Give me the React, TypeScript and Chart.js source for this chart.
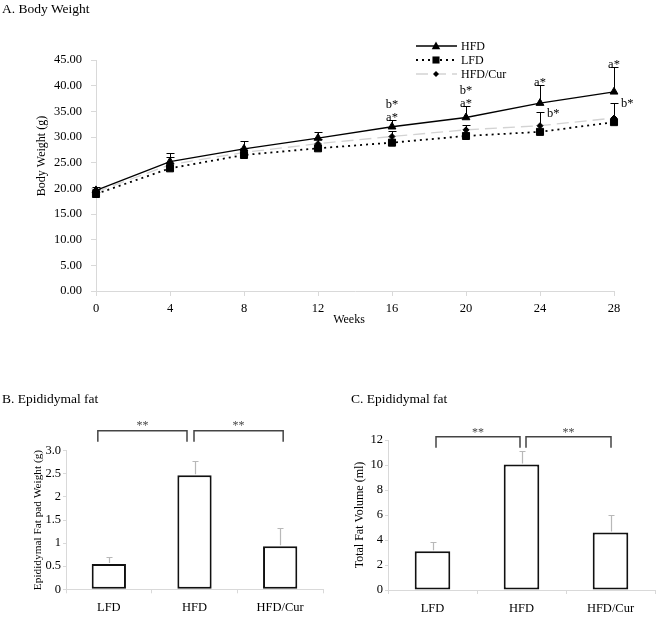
import React, { useEffect, useRef } from 'react';
import { Chart, registerables } from 'chart.js';

Chart.register(...registerables);

const FONT = "'Liberation Serif', 'Times New Roman', Times, serif";
Chart.defaults.font.family = FONT;
Chart.defaults.color = '#000';

// ---------- Panel A: body weight (g) by week ----------
const weeks = [0, 4, 8, 12, 16, 20, 24, 28];
const hfdWeight = [19.6, 25.2, 27.7, 29.8, 32.0, 33.8, 36.6, 38.8];
const hfdWeightErr = [0.6, 1.6, 1.5, 1.1, 1.3, 2.3, 3.6, 4.9];
const lfdWeight = [18.9, 23.9, 26.5, 27.8, 28.9, 30.2, 31.0, 32.9];
const curWeight = [19.3, 24.6, 27.0, 28.7, 30.1, 31.4, 32.2, 33.7];
const curWeightErr = [0.5, 1.5, 0.8, 1.0, 1.0, 1.0, 2.6, 2.9];
const seriesNames = ['HFD', 'LFD', 'HFD/Cur'];
const aMarkWeeks = [16, 20, 24, 28]; // "a*" above HFD error bar
const bAboveWeeks = [16, 20]; // "b*" stacked above "a*"
const bSideWeeks = [24, 28]; // "b*" beside HFD/Cur error bar

// ---------- Panels B & C ----------
const groups = ['LFD', 'HFD', 'HFD/Cur'];
const fatPadWeight = [0.55, 2.47, 0.93];
const fatPadWeightErr = [0.14, 0.31, 0.4];
const fatVolume = [3.1, 10.05, 4.6];
const fatVolumeErr = [0.75, 1.05, 1.4];
const sigPairs = [
  [0, 1],
  [1, 2],
];
const sigLabel = '**';

const pts = (vals: number[]) => weeks.map((w, i) => ({ x: w, y: vals[i] }));

function drawMarker(ctx: CanvasRenderingContext2D, style: string, x: number, y: number, r: number) {
  ctx.beginPath();
  if (style === 'triangle') {
    ctx.moveTo(x, y - r);
    ctx.lineTo(x + r * 0.95, y + r * 0.7);
    ctx.lineTo(x - r * 0.95, y + r * 0.7);
    ctx.closePath();
  } else if (style === 'rect') {
    const s = r * Math.SQRT1_2;
    ctx.rect(x - s, y - s, 2 * s, 2 * s);
  } else {
    ctx.moveTo(x, y - r);
    ctx.lineTo(x + r, y);
    ctx.lineTo(x, y + r);
    ctx.lineTo(x - r, y);
    ctx.closePath();
  }
  ctx.fill();
}

const lineExtras = {
  id: 'lineExtras',
  afterDatasetsDraw(chart: any) {
    const { ctx, scales } = chart;
    const x = scales.x;
    const y = scales.y;
    ctx.save();
    ctx.strokeStyle = '#000';
    ctx.lineWidth = 1;
    const sets: [number[], number[]][] = [
      [hfdWeight, hfdWeightErr],
      [curWeight, curWeightErr],
    ];
    sets.forEach(([vals, errs]) => {
      weeks.forEach((w, i) => {
        const px = Math.round(x.getPixelForValue(w)) + 0.5;
        const y0 = y.getPixelForValue(vals[i]);
        const y1 = Math.round(y.getPixelForValue(vals[i] + errs[i])) + 0.5;
        ctx.beginPath();
        ctx.moveTo(px, y0);
        ctx.lineTo(px, y1);
        ctx.moveTo(px - 4, y1);
        ctx.lineTo(px + 4, y1);
        ctx.stroke();
      });
    });
    ctx.restore();
  },
  afterDraw(chart: any) {
    const { ctx, scales } = chart;
    const x = scales.x;
    const y = scales.y;
    ctx.save();
    // significance marks
    ctx.font = `12.5px ${FONT}`;
    ctx.fillStyle = '#000';
    ctx.textBaseline = 'middle';
    ctx.textAlign = 'center';
    const hfdTop = (w: number) => {
      const i = weeks.indexOf(w);
      return y.getPixelForValue(hfdWeight[i] + hfdWeightErr[i]);
    };
    const curTop = (w: number) => {
      const i = weeks.indexOf(w);
      return y.getPixelForValue(curWeight[i] + curWeightErr[i]);
    };
    aMarkWeeks.forEach((w) => ctx.fillText('a*', x.getPixelForValue(w), hfdTop(w) - 2));
    bAboveWeeks.forEach((w) => ctx.fillText('b*', x.getPixelForValue(w), hfdTop(w) - 15));
    ctx.textAlign = 'left';
    bSideWeeks.forEach((w) => ctx.fillText('b*', x.getPixelForValue(w) + 7, curTop(w) + 1));

    // axis titles
    ctx.font = `12px ${FONT}`;
    ctx.textAlign = 'center';
    ctx.fillText('Weeks', 349, 320);
    ctx.save();
    ctx.translate(42, 156);
    ctx.rotate(-Math.PI / 2);
    ctx.fillText('Body Weight (g)', 0, 0);
    ctx.restore();

    // legend
    const styles = ['triangle', 'rect', 'rectRot'];
    const radii = [4.5, 5, 3];
    chart.data.datasets.forEach((ds: any, i: number) => {
      const ly = 46 + i * 14;
      ctx.save();
      ctx.strokeStyle = ds.borderColor;
      ctx.lineWidth = ds.borderWidth;
      ctx.setLineDash(ds.borderDash || []);
      ctx.beginPath();
      ctx.moveTo(416, ly);
      ctx.lineTo(457, ly);
      ctx.stroke();
      ctx.setLineDash([]);
      ctx.fillStyle = '#000';
      drawMarker(ctx, styles[i], 436, ly, radii[i]);
      ctx.restore();
      ctx.font = `12px ${FONT}`;
      ctx.textAlign = 'left';
      ctx.fillText(ds.label, 461, ly + 0.5);
    });
    ctx.restore();
  },
};

function makeBarPlugin(errs: number[], vals: number[], geo: any) {
  return {
    id: 'barExtras',
    afterDatasetsDraw(chart: any) {
      const { ctx, scales, chartArea } = chart;
      const x = scales.x;
      const y = scales.y;
      ctx.save();
      ctx.strokeStyle = '#b8b8b8';
      ctx.lineWidth = 1.2;
      vals.forEach((v, i) => {
        const px = Math.round(x.getPixelForValue(i)) + 0.5;
        const y0 = y.getPixelForValue(v) - 1;
        const y1 = Math.round(y.getPixelForValue(v + errs[i])) + 0.5;
        ctx.beginPath();
        ctx.moveTo(px, y0);
        ctx.lineTo(px, y1);
        ctx.moveTo(px - 3, y1);
        ctx.lineTo(px + 3, y1);
        ctx.stroke();
      });
      // significance brackets
      ctx.strokeStyle = '#444';
      ctx.lineWidth = 1.5;
      ctx.fillStyle = '#444';
      ctx.font = `12px ${FONT}`;
      ctx.textAlign = 'center';
      ctx.textBaseline = 'middle';
      sigPairs.forEach(([a, b], k) => {
        const x0 = x.getPixelForValue(a) + geo.brX[k][0];
        const x1 = x.getPixelForValue(b) + geo.brX[k][1];
        const yh = chartArea.top + geo.brTop;
        const yl = chartArea.top + geo.brLeg;
        ctx.beginPath();
        ctx.moveTo(x0, yl);
        ctx.lineTo(x0, yh);
        ctx.lineTo(x1, yh);
        ctx.lineTo(x1, yl);
        ctx.stroke();
        ctx.fillText(sigLabel, (x0 + x1) / 2, chartArea.top + geo.star);
      });
      ctx.restore();
    },
  };
}

function barConfig(vals: number[], errs: number[], geo: any): any {
  return {
    type: 'bar',
    data: {
      labels: groups,
      datasets: [
        {
          data: vals,
          backgroundColor: '#fff',
          borderColor: '#111',
          borderWidth: 2,
          borderSkipped: false,
          barPercentage: 0.4,
          categoryPercentage: 1,
        },
      ],
    },
    options: {
      responsive: false,
      animation: false,
      layout: { padding: { top: geo.padTop, right: geo.padRight, left: 0, bottom: 0 } },
      plugins: { legend: { display: false }, tooltip: { enabled: false } },
      scales: {
        x: {
          grid: { drawOnChartArea: false, tickLength: 4, color: '#d9d9d9', offset: true },
          border: { color: '#d9d9d9' },
          ticks: { font: { size: 12.5, family: FONT }, color: '#000', padding: 7 },
          afterFit: (s: any) => {
            s.height = geo.xH;
          },
        },
        y: {
          min: 0,
          max: geo.max,
          ticks: {
            stepSize: geo.step,
            font: { size: 12.5, family: FONT },
            color: '#000',
            padding: 2,
            callback: geo.fmt,
          },
          grid: { drawOnChartArea: false, tickLength: 3, color: '#d9d9d9' },
          border: { color: '#d9d9d9' },
          title: {
            display: true,
            text: geo.title,
            font: { size: geo.titleSize, family: FONT },
            color: '#000',
            padding: { top: geo.titlePad, bottom: 0 },
          },
          afterFit: (s: any) => {
            s.width = geo.yW;
          },
        },
      },
    },
    plugins: [makeBarPlugin(errs, vals, geo)],
  };
}

const geoB = {
  padTop: 70.7,
  padRight: 7,
  xH: 27.7,
  yW: 66,
  max: 3,
  step: 0.5,
  fmt: (v: any) => (Number(v) === 3 ? '3.0' : String(v)),
  title: 'Epididymal Fat pad Weight (g)',
  titleSize: 11.3,
  titlePad: 31.2,
  brX: [
    [-11, -7.5],
    [-0.5, 3],
  ],
  brTop: -20,
  brLeg: -9,
  star: -25,
};

const geoC = {
  padTop: 60,
  padRight: 7,
  xH: 27,
  yW: 58,
  max: 12,
  step: 2,
  fmt: (v: any) => String(v),
  title: 'Total Fat Volume (ml)',
  titleSize: 12,
  titlePad: 22.8,
  brX: [
    [3.5, -1.5],
    [4.5, 0.5],
  ],
  brTop: -3.3,
  brLeg: 7.7,
  star: -7,
};

export default function App() {
  const refA = useRef<HTMLCanvasElement>(null);
  const refB = useRef<HTMLCanvasElement>(null);
  const refC = useRef<HTMLCanvasElement>(null);

  useEffect(() => {
    const tickFont = { size: 12.5, family: FONT };
    const chartA = new Chart(refA.current as HTMLCanvasElement, {
      type: 'line',
      data: {
        datasets: [
          {
            label: seriesNames[0],
            data: pts(hfdWeight),
            borderColor: '#000',
            borderWidth: 1.3,
            pointStyle: 'triangle',
            pointRadius: 4.5,
            pointBackgroundColor: '#000',
            pointBorderColor: '#000',
            pointBorderWidth: 1,
            clip: false,
          },
          {
            label: seriesNames[1],
            data: pts(lfdWeight),
            borderColor: '#000',
            borderWidth: 1.8,
            borderDash: [2, 4],
            pointStyle: 'rect',
            pointRadius: 5,
            pointBackgroundColor: '#000',
            pointBorderColor: '#000',
            pointBorderWidth: 1,
            clip: false,
          },
          {
            label: seriesNames[2],
            data: pts(curWeight),
            borderColor: '#d3d3d3',
            borderWidth: 1.3,
            borderDash: [12, 6],
            pointStyle: 'rectRot',
            pointRadius: 3,
            pointBackgroundColor: '#000',
            pointBorderColor: '#000',
            pointBorderWidth: 1,
            clip: false,
          },
        ],
      } as any,
      options: {
        responsive: false,
        animation: false,
        layout: { padding: { top: 60, right: 48, left: 0, bottom: 0 } },
        plugins: { legend: { display: false }, tooltip: { enabled: false } },
        scales: {
          x: {
            type: 'linear',
            min: 0,
            max: 28,
            ticks: { stepSize: 4, font: tickFont, color: '#000', padding: 5 },
            grid: { drawOnChartArea: false, tickLength: 5, color: '#d9d9d9' },
            border: { color: '#d9d9d9' },
            afterFit: (s: any) => {
              s.height = 44;
            },
          },
          y: {
            min: 0,
            max: 45,
            ticks: {
              stepSize: 5,
              font: tickFont,
              color: '#000',
              padding: 9,
              callback: (v: any) => Number(v).toFixed(2),
            },
            grid: { drawOnChartArea: false, tickLength: 5, color: '#d9d9d9' },
            border: { color: '#d9d9d9' },
            afterFit: (s: any) => {
              s.width = 96;
            },
          },
        },
      } as any,
      plugins: [lineExtras as any],
    });
    const chartB = new Chart(refB.current as HTMLCanvasElement, barConfig(fatPadWeight, fatPadWeightErr, geoB));
    const chartC = new Chart(refC.current as HTMLCanvasElement, barConfig(fatVolume, fatVolumeErr, geoC));
    return () => {
      chartA.destroy();
      chartB.destroy();
      chartC.destroy();
    };
  }, []);

  const titleStyle: React.CSSProperties = {
    position: 'absolute',
    fontFamily: FONT,
    fontSize: 13.5,
    lineHeight: '16px',
    color: '#000',
    whiteSpace: 'nowrap',
  };

  return (
    <div style={{ position: 'absolute', left: 0, top: 0, width: 662, height: 617, background: '#fff' }}>
      <canvas ref={refA} width={662} height={335} style={{ position: 'absolute', left: 0, top: 0 }} />
      <canvas ref={refB} width={330} height={237} style={{ position: 'absolute', left: 0, top: 380 }} />
      <canvas ref={refC} width={332} height={237} style={{ position: 'absolute', left: 330, top: 380 }} />
      <div style={{ ...titleStyle, left: 2, top: 1 }}>A. Body Weight</div>
      <div style={{ ...titleStyle, left: 2, top: 390.5 }}>B. Epididymal fat</div>
      <div style={{ ...titleStyle, left: 351, top: 390.5 }}>C. Epididymal fat</div>
    </div>
  );
}
